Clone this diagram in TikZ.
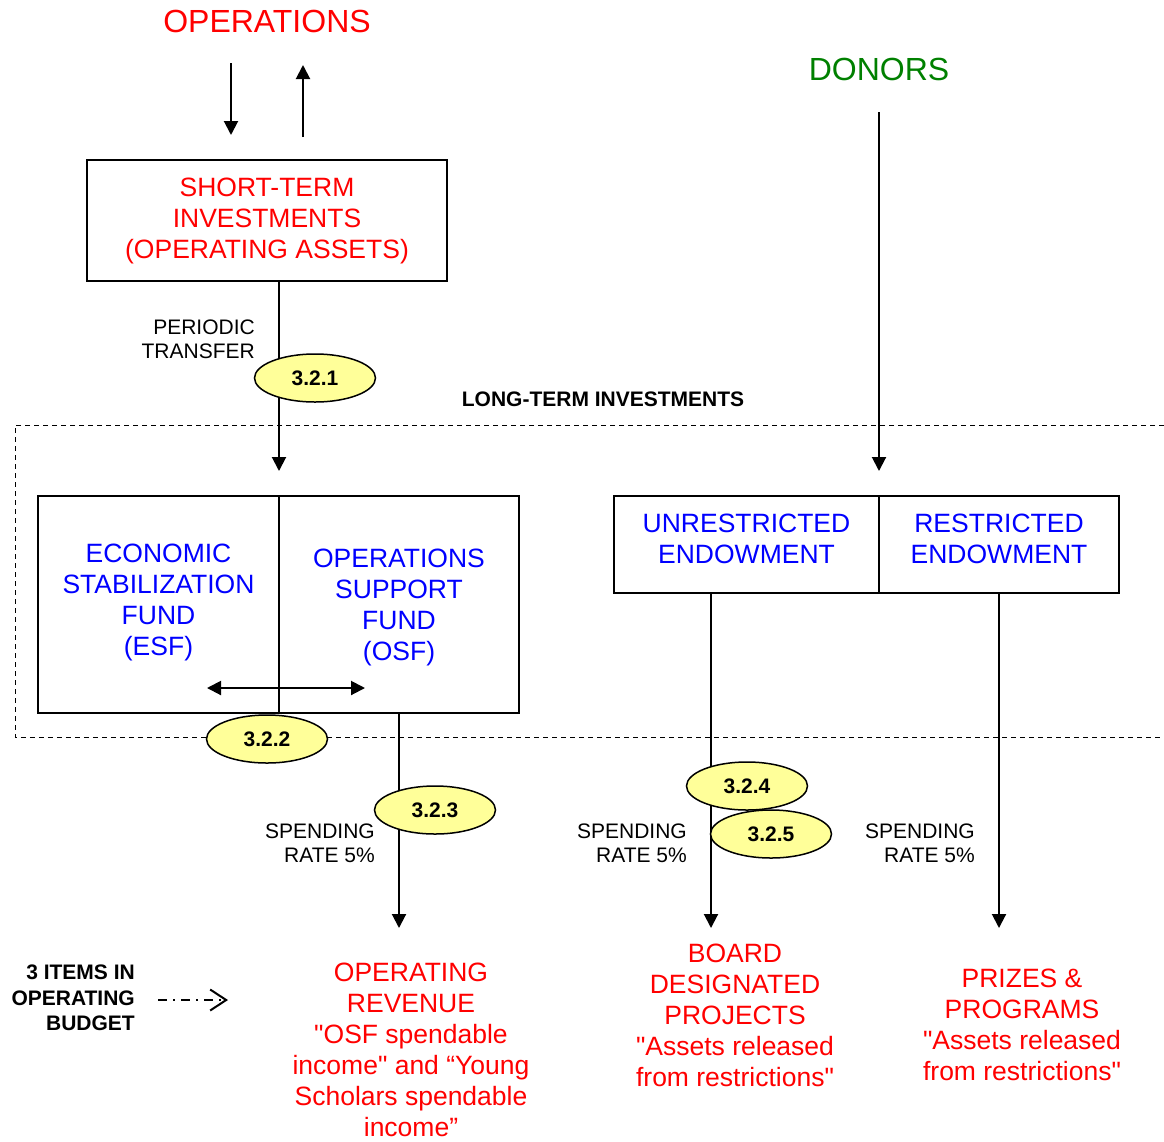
\documentclass[tikz,border=0pt]{standalone}
\usepackage{fontspec}
\setmainfont{Liberation Sans}[Ligatures=TeXOff]
\usetikzlibrary{positioning,arrows.meta,shapes.geometric}

\definecolor{refyellow}{RGB}{255,255,153}
\definecolor{donorgreen}{RGB}{0,128,0}

\begin{document}
\begin{tikzpicture}[
    x=1pt, y=-1pt,
    >={Triangle[length=14pt,width=14pt]},
    bigfont/.style={font=\fontsize{26.5}{31}\selectfont},
    box/.style={
        draw,
        line width=2pt,
        align=center,
        inner sep=0pt,
        outer sep=0pt,
        bigfont
    },
    fundbox/.style={
        box,
        text=blue,
        minimum width=240pt
    },
    headtext/.style={
        font=\fontsize{32}{38}\selectfont,
        inner sep=0pt
    },
    redtext/.style={
        text=red,
        align=center,
        inner sep=0pt,
        bigfont
    },
    smalltext/.style={
        font=\fontsize{21}{24}\selectfont,
        align=right,
        inner sep=0pt,
        anchor=east
    },
    boldtext/.style={
        font=\fontsize{21}{25.5}\selectfont\bfseries,
        align=right,
        inner sep=0pt
    },
    refmark/.style={
        ellipse,
        draw,
        line width=1.5pt,
        fill=refyellow,
        minimum width=121pt,
        minimum height=48pt,
        inner sep=0pt,
        font=\fontsize{21}{24}\selectfont\bfseries
    },
    flow/.style={->, line width=2pt},
    region/.style={line width=1pt, dash pattern=on 5pt off 4pt}
]
\useasboundingbox (0,0) rectangle (1164,1141);

% Long-term investments region (open on the right)
\draw[region] (1164,425) -| (15,737) -- (1164,737);
\node[boldtext, align=center] (ltinv) at (603,399) {LONG-TERM INVESTMENTS};

% Sources
\node[headtext, text=red] (ops) at (267,21) {OPERATIONS};
\node[headtext, text=donorgreen] (donors) at (879,69) {DONORS};

\node[box, text=red, minimum width=360pt, minimum height=121pt] (stbox) at (267,220.5)
    {SHORT-TERM\\INVESTMENTS\\(OPERATING ASSETS)};

% Funds
\node[fundbox, minimum width=241pt, minimum height=217pt, text depth=10pt] (esf) at (158.5,604.5)
    {ECONOMIC\\STABILIZATION\\FUND\\(ESF)};
\node[fundbox, minimum height=217pt, text depth=-4pt, right=0pt of esf] (osf)
    {OPERATIONS\\SUPPORT\\FUND\\(OSF)};

\node[fundbox, minimum width=265pt, minimum height=97pt, text depth=12pt] (unres) at (746.5,544.5)
    {UNRESTRICTED\\ENDOWMENT};
\node[fundbox, minimum height=97pt, text depth=12pt, right=0pt of unres] (res)
    {RESTRICTED\\ENDOWMENT};

% Uses
\node[redtext] (oprev) at (411,1050)
    {OPERATING\\REVENUE\\"OSF spendable\\income" and “Young\\Scholars spendable\\income”};
\node[redtext] (bdp) at (735,1015.5)
    {BOARD\\DESIGNATED\\PROJECTS\\"Assets released\\from restrictions"};
\node[redtext] (prizes) at (1022,1024.5)
    {PRIZES \&\\PROGRAMS\\"Assets released\\from restrictions"};

\node[boldtext, anchor=east] (items) at (135,998) {3 ITEMS IN\\OPERATING\\BUDGET};

% Labels
\node[smalltext] (transfer) at (255,339) {PERIODIC\\TRANSFER};
\node[smalltext] (spend-osf) at (375,843) {SPENDING\\RATE 5\%};
\node[smalltext] (spend-unres) at (687,843) {SPENDING\\RATE 5\%};
\node[smalltext] (spend-res) at (975,843) {SPENDING\\RATE 5\%};

% Free ends
\coordinate (ops-down-a) at (231,63);
\coordinate (ops-down-b) at (231,135);
\coordinate (ops-up-a) at (303,137);
\coordinate (ops-up-b) at (303,65);
\coordinate (esf-in) at (279,471);
\coordinate (donor-out) at (879,112);
\coordinate (unres-in) at (879,471);
\coordinate (swap-l) at (207,688);
\coordinate (swap-r) at (365,688);
\coordinate (oprev-in) at (399,928);
\coordinate (bdp-in) at (711,928);
\coordinate (prizes-in) at (999,928);

% Connectors
\draw[flow] (ops-down-a) -- (ops-down-b);
\draw[flow] (ops-up-a) -- (ops-up-b);
\draw[flow] (stbox.south -| esf-in) -- (esf-in);
\draw[flow] (donor-out) -- (unres-in);
\draw[<->, line width=2pt] (swap-l) -- (swap-r);
\draw[flow] (osf.south) -- (oprev-in);
\draw[flow] (unres.south -| bdp-in) -- (bdp-in);
\draw[flow] (res.south) -- (prizes-in);
\draw[line width=2pt, dash pattern=on 9pt off 6pt on 2pt off 6pt,
      -{Straight Barb[length=16pt,width=21pt]}]
    ([xshift=23pt,yshift=-2pt]items.east) -- ([xshift=93pt,yshift=-2pt]items.east);

% Reference marks
\node[refmark] (m321) at (315,378) {3.2.1};
\node[refmark] (m322) at (267,739) {3.2.2};
\node[refmark] (m323) at (435,810) {3.2.3};
\node[refmark] (m324) at (747,786) {3.2.4};
\node[refmark] (m325) at (771,834) {3.2.5};

\end{tikzpicture}
\end{document}
